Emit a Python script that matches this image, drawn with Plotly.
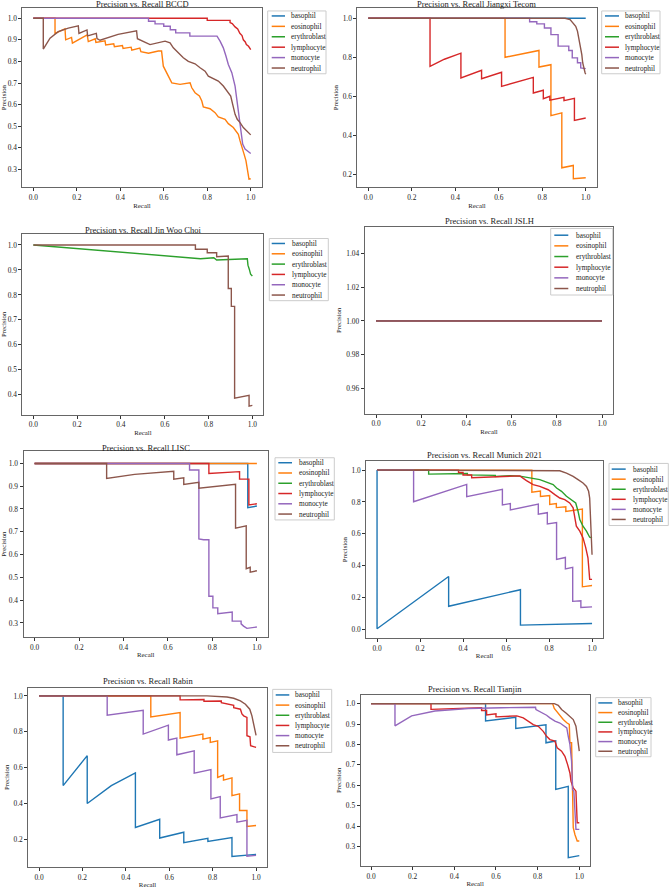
import plotly.graph_objects as go

W, H = 669, 888
FONT = "Liberation Serif"

CLASSES = ["basophil", "eosinophil", "erythroblast", "lymphocyte", "monocyte", "neutrophil"]
COLORS = ["#1f77b4", "#ff7f0e", "#2ca02c", "#d62728", "#9467bd", "#8c564b"]
DATASETS = ["BCCD", "Jiangxi Tecom", "Jin Woo Choi", "JSLH", "LISC", "Munich 2021", "Rabin", "Tianjin"]
X_TICKS = [0.0, 0.2, 0.4, 0.6, 0.8, 1.0]

# ---------------- data: (recall, precision) points ----------------
# BCCD
bccd_basophil = []
bccd_eosinophil = [(0, 1), (0.10, 1), (0.10, 0.93), (0.146, 0.951), (0.149, 0.90), (0.176, 0.911), (0.18, 0.885),
                   (0.248, 0.923), (0.253, 0.892), (0.285, 0.905), (0.288, 0.888), (0.33, 0.895), (0.333, 0.876),
                   (0.37, 0.882), (0.373, 0.868), (0.41, 0.874), (0.413, 0.86), (0.45, 0.866), (0.453, 0.852),
                   (0.49, 0.862), (0.495, 0.845), (0.53, 0.838), (0.575, 0.848), (0.59, 0.848), (0.598, 0.778),
                   (0.614, 0.748), (0.629, 0.717), (0.637, 0.701), (0.675, 0.694), (0.721, 0.701), (0.729, 0.678),
                   (0.744, 0.655), (0.764, 0.64), (0.775, 0.617), (0.782, 0.589), (0.813, 0.581), (0.836, 0.563),
                   (0.851, 0.543), (0.882, 0.532), (0.897, 0.512), (0.92, 0.494), (0.943, 0.463), (0.951, 0.432),
                   (0.959, 0.409), (0.969, 0.372), (0.978, 0.341), (0.984, 0.295), (0.992, 0.255), (1.0, 0.257)]
bccd_erythroblast = []
bccd_lymphocyte = [(0, 1), (0.80, 1), (0.80, 0.99), (0.905, 0.99), (0.905, 0.98), (0.915, 0.975), (0.928, 0.96),
                   (0.94, 0.95), (0.95, 0.93), (0.96, 0.92), (0.966, 0.90), (0.975, 0.89), (0.98, 0.878),
                   (0.99, 0.87), (1.0, 0.855)]
bccd_monocyte = [(0, 1), (0.53, 1), (0.53, 0.986), (0.56, 0.986), (0.56, 0.974), (0.60, 0.974), (0.60, 0.963),
                 (0.63, 0.963), (0.63, 0.947), (0.655, 0.947), (0.655, 0.932), (0.72, 0.932), (0.72, 0.917),
                 (0.845, 0.917), (0.859, 0.894), (0.874, 0.863), (0.886, 0.825), (0.897, 0.786), (0.913, 0.748),
                 (0.928, 0.686), (0.936, 0.624), (0.946, 0.555), (0.954, 0.478), (0.963, 0.417), (0.974, 0.394),
                 (0.997, 0.374), (1.0, 0.374)]
bccd_neutrophil = [(0, 1), (0.046, 1), (0.046, 0.857), (0.077, 0.908), (0.115, 0.938), (0.161, 0.954),
                   (0.207, 0.965), (0.21, 0.93), (0.247, 0.946), (0.25, 0.918), (0.29, 0.93), (0.293, 0.906),
                   (0.307, 0.898), (0.39, 0.925), (0.475, 0.942), (0.479, 0.905), (0.52, 0.886), (0.537, 0.878),
                   (0.606, 0.894), (0.629, 0.886), (0.644, 0.863), (0.667, 0.84), (0.69, 0.817), (0.713, 0.80),
                   (0.744, 0.789), (0.767, 0.771), (0.79, 0.755), (0.805, 0.732), (0.828, 0.721), (0.851, 0.709),
                   (0.874, 0.686), (0.892, 0.663), (0.908, 0.64), (0.917, 0.601), (0.928, 0.555), (0.938, 0.532),
                   (0.951, 0.517), (0.966, 0.494), (0.981, 0.478), (0.997, 0.46), (1.0, 0.46)]

# Jiangxi Tecom
jx_basophil = [(0, 1), (1.0, 1)]
jx_eosinophil = [(0, 1), (0.629, 1), (0.629, 0.80), (0.785, 0.835), (0.785, 0.75), (0.84, 0.762), (0.84, 0.501),
                 (0.89, 0.515), (0.89, 0.234), (0.943, 0.246), (0.943, 0.178), (1.0, 0.183)]
jx_erythroblast = []
jx_lymphocyte = [(0, 1), (0.284, 1), (0.284, 0.753), (0.35, 0.79), (0.426, 0.821), (0.426, 0.694), (0.521, 0.733),
                 (0.521, 0.69), (0.613, 0.723), (0.613, 0.651), (0.759, 0.697), (0.759, 0.617), (0.805, 0.631),
                 (0.805, 0.588), (0.835, 0.60), (0.835, 0.58), (0.90, 0.595), (0.90, 0.578), (0.948, 0.59),
                 (0.948, 0.477), (1.0, 0.489)]
jx_monocyte = [(0, 1), (0.742, 1), (0.742, 0.982), (0.775, 0.982), (0.775, 0.971), (0.81, 0.971), (0.81, 0.95),
               (0.84, 0.95), (0.84, 0.916), (0.873, 0.916), (0.873, 0.857), (0.922, 0.857), (0.922, 0.835),
               (0.938, 0.835), (0.938, 0.797), (0.962, 0.797), (0.962, 0.772), (0.977, 0.772), (0.977, 0.746),
               (1.0, 0.742)]
jx_neutrophil = [(0, 1), (0.905, 1), (0.928, 0.993), (0.943, 0.976), (0.954, 0.959), (0.962, 0.934), (0.97, 0.891),
                 (0.975, 0.848), (0.982, 0.814), (0.986, 0.772), (0.992, 0.738), (0.997, 0.721), (1.0, 0.713)]

# Jin Woo Choi
jw_basophil = []
jw_eosinophil = []
jw_erythroblast = [(0, 1), (0.763, 0.945), (0.824, 0.949), (0.837, 0.94), (0.977, 0.945), (0.98, 0.919),
                   (0.986, 0.903), (0.992, 0.883), (1.0, 0.876)]
jw_lymphocyte = []
jw_monocyte = []
jw_neutrophil = [(0, 1), (0.74, 1), (0.74, 0.983), (0.794, 0.983), (0.794, 0.969), (0.837, 0.969), (0.837, 0.953),
                 (0.89, 0.956), (0.89, 0.826), (0.904, 0.826), (0.904, 0.754), (0.919, 0.754), (0.919, 0.387),
                 (0.985, 0.398), (0.985, 0.355), (1.0, 0.358)]

# JSLH
jslh_basophil = [(0, 1), (1.0, 1)]
jslh_eosinophil = [(0, 1), (1.0, 1)]
jslh_erythroblast = [(0, 1), (1.0, 1)]
jslh_lymphocyte = [(0, 1), (1.0, 1)]
jslh_monocyte = [(0, 1), (1.0, 1)]
jslh_neutrophil = [(0, 1), (1.0, 1)]

# LISC
lisc_basophil = [(0, 1), (0.959, 1), (0.959, 0.806), (1.0, 0.813)]
lisc_eosinophil = [(0, 1), (1.0, 1)]
lisc_erythroblast = []
lisc_lymphocyte = [(0, 1), (0.784, 1), (0.784, 0.956), (0.922, 0.964), (0.922, 0.931), (0.964, 0.931),
                   (0.964, 0.818), (1.0, 0.823)]
lisc_monocyte = [(0, 1), (0.697, 1), (0.697, 0.971), (0.739, 0.971), (0.739, 0.669), (0.76, 0.665), (0.784, 0.665),
                 (0.784, 0.417), (0.802, 0.417), (0.802, 0.366), (0.824, 0.366), (0.824, 0.34), (0.889, 0.348),
                 (0.889, 0.308), (0.929, 0.308), (0.929, 0.296), (0.94, 0.286), (0.955, 0.276), (1.0, 0.282)]
lisc_neutrophil = [(0, 1), (0.324, 1), (0.324, 0.934), (0.45, 0.952), (0.626, 0.966), (0.626, 0.931),
                   (0.671, 0.937), (0.671, 0.908), (0.739, 0.917), (0.739, 0.891), (0.904, 0.908), (0.904, 0.716),
                   (0.952, 0.726), (0.952, 0.538), (0.97, 0.544), (0.97, 0.523), (1.0, 0.529)]

# Munich 2021
mu_basophil = [(0, 1), (0, 0.005), (0.333, 0.333), (0.333, 0.146), (0.667, 0.25), (0.667, 0.028), (1.0, 0.038)]
mu_eosinophil = [(0, 1), (0.72, 1), (0.72, 0.862), (0.76, 0.868), (0.76, 0.835), (0.803, 0.84), (0.803, 0.785),
                 (0.834, 0.79), (0.834, 0.765), (0.878, 0.77), (0.878, 0.74), (0.955, 0.755), (0.955, 0.268),
                 (1.0, 0.276)]
mu_erythroblast = [(0, 1), (0.24, 1), (0.24, 0.975), (0.42, 0.979), (0.42, 0.97), (0.55, 0.967), (0.55, 0.96),
                   (0.62, 0.965), (0.664, 0.962), (0.70, 0.955), (0.757, 0.94), (0.788, 0.925), (0.819, 0.909),
                   (0.835, 0.888), (0.858, 0.867), (0.881, 0.836), (0.904, 0.815), (0.924, 0.794), (0.935, 0.742),
                   (0.943, 0.69), (0.958, 0.648), (0.974, 0.617), (0.989, 0.579), (1.0, 0.575)]
mu_lymphocyte = [(0, 1), (0.379, 1), (0.379, 0.985), (0.40, 0.985), (0.40, 0.969), (0.44, 0.969), (0.44, 0.952),
                 (0.55, 0.958), (0.664, 0.964), (0.695, 0.934), (0.726, 0.909), (0.757, 0.898), (0.796, 0.877),
                 (0.827, 0.846), (0.85, 0.825), (0.873, 0.815), (0.896, 0.794), (0.912, 0.763), (0.919, 0.70),
                 (0.927, 0.648), (0.943, 0.617), (0.958, 0.575), (0.97, 0.517), (0.981, 0.45), (0.986, 0.367),
                 (0.989, 0.315), (1.0, 0.315)]
mu_monocyte = [(0, 1), (0.17, 1), (0.17, 0.802), (0.417, 0.91), (0.417, 0.833), (0.583, 0.879), (0.583, 0.781),
               (0.62, 0.79), (0.62, 0.75), (0.75, 0.787), (0.75, 0.723), (0.792, 0.733), (0.792, 0.662),
               (0.835, 0.671), (0.835, 0.44), (0.876, 0.452), (0.876, 0.38), (0.91, 0.39), (0.91, 0.177),
               (0.948, 0.181), (0.948, 0.138), (1.0, 0.142)]
mu_neutrophil = [(0, 1), (0.80, 1), (0.85, 0.996), (0.881, 0.981), (0.912, 0.961), (0.935, 0.94), (0.958, 0.919),
                 (0.974, 0.898), (0.984, 0.867), (0.989, 0.825), (0.993, 0.679), (0.997, 0.471), (1.0, 0.469)]

# Rabin
ra_basophil = [(0, 1), (0.111, 1), (0.111, 0.5), (0.222, 0.667), (0.222, 0.4), (0.333, 0.5), (0.444, 0.571),
               (0.444, 0.267), (0.556, 0.312), (0.556, 0.208), (0.667, 0.24), (0.667, 0.182), (0.778, 0.206),
               (0.778, 0.189), (0.889, 0.211), (0.889, 0.105), (1.0, 0.117)]
ra_eosinophil = [(0, 1), (0.515, 1), (0.515, 0.883), (0.65, 0.907), (0.65, 0.765), (0.755, 0.787), (0.755, 0.759),
                 (0.789, 0.768), (0.789, 0.741), (0.823, 0.75), (0.823, 0.546), (0.85, 0.559), (0.85, 0.531),
                 (0.889, 0.543), (0.889, 0.444), (0.924, 0.454), (0.924, 0.361), (0.958, 0.361), (0.958, 0.272),
                 (1.0, 0.278)]
ra_erythroblast = []
ra_lymphocyte = [(0, 1), (0.65, 1), (0.65, 0.978), (0.76, 0.98), (0.76, 0.97), (0.84, 0.972), (0.84, 0.962),
                 (0.87, 0.955), (0.897, 0.948), (0.897, 0.935), (0.928, 0.926), (0.935, 0.90), (0.943, 0.889),
                 (0.958, 0.88), (0.958, 0.778), (0.972, 0.772), (0.975, 0.722), (1.0, 0.713)]
ra_monocyte = [(0, 1), (0.314, 1), (0.314, 0.893), (0.48, 0.92), (0.48, 0.787), (0.596, 0.837), (0.596, 0.754),
               (0.635, 0.765), (0.635, 0.672), (0.715, 0.694), (0.715, 0.569), (0.792, 0.589), (0.792, 0.426),
               (0.835, 0.439), (0.835, 0.32), (0.912, 0.339), (0.912, 0.296), (0.958, 0.306), (0.958, 0.106),
               (1.0, 0.111)]
ra_neutrophil = [(0, 1), (0.774, 1), (0.866, 0.994), (0.897, 0.987), (0.928, 0.972), (0.951, 0.954),
                 (0.971, 0.926), (0.981, 0.889), (0.989, 0.843), (0.997, 0.787), (1.0, 0.78)]

# Tianjin
tj_basophil = [(0, 1), (0.55, 1), (0.55, 0.915), (0.695, 0.933), (0.695, 0.878), (0.84, 0.896), (0.84, 0.808),
               (0.887, 0.817), (0.887, 0.58), (0.947, 0.595), (0.947, 0.245), (1.0, 0.255)]
tj_eosinophil = [(0, 1), (0.872, 1), (0.88, 0.976), (0.891, 0.962), (0.907, 0.946), (0.923, 0.922), (0.94, 0.906),
                 (0.952, 0.898), (0.955, 0.808), (0.963, 0.808), (0.968, 0.555), (0.971, 0.392), (0.979, 0.359),
                 (0.99, 0.327), (1.0, 0.327)]
tj_erythroblast = []
tj_lymphocyte = [(0, 1), (0.288, 1), (0.288, 0.972), (0.531, 0.98), (0.531, 0.966), (0.555, 0.966), (0.555, 0.945),
                 (0.60, 0.95), (0.60, 0.935), (0.70, 0.94), (0.731, 0.93), (0.755, 0.913), (0.779, 0.897),
                 (0.803, 0.889), (0.827, 0.864), (0.843, 0.84), (0.859, 0.824), (0.883, 0.816), (0.894, 0.783),
                 (0.915, 0.767), (0.931, 0.742), (0.944, 0.701), (0.955, 0.66), (0.96, 0.62), (0.971, 0.587),
                 (0.984, 0.571), (0.99, 0.416), (1.0, 0.416)]
tj_monocyte = [(0, 1), (0.115, 1), (0.115, 0.891), (0.195, 0.94), (0.307, 0.964), (0.467, 0.976), (0.627, 0.98),
               (0.79, 0.982), (0.792, 0.971), (0.811, 0.962), (0.843, 0.943), (0.859, 0.93), (0.883, 0.914),
               (0.907, 0.905), (0.927, 0.889), (0.94, 0.881), (0.947, 0.84), (0.955, 0.80), (0.963, 0.718),
               (0.968, 0.579), (0.974, 0.57), (0.984, 0.384), (1.0, 0.384)]
tj_neutrophil = [(0, 1), (0.88, 1), (0.899, 0.992), (0.915, 0.971), (0.936, 0.954), (0.955, 0.938), (0.971, 0.922),
                 (0.984, 0.889), (0.992, 0.832), (0.998, 0.767), (1.0, 0.767)]

# y tick labels per panel
bccd_yticks = [0.3, 0.4, 0.5, 0.6, 0.7, 0.8, 0.9, 1.0]
jx_yticks = [0.2, 0.4, 0.6, 0.8, 1.0]
jw_yticks = [0.4, 0.5, 0.6, 0.7, 0.8, 0.9, 1.0]
jslh_yticks = [0.96, 0.98, 1.00, 1.02, 1.04]
lisc_yticks = [0.3, 0.4, 0.5, 0.6, 0.7, 0.8, 0.9, 1.0]
mu_yticks = [0.0, 0.2, 0.4, 0.6, 0.8, 1.0]
ra_yticks = [0.2, 0.4, 0.6, 0.8, 1.0]
tj_yticks = [0.3, 0.4, 0.5, 0.6, 0.7, 0.8, 0.9, 1.0]

PANEL_CURVES = [
    [bccd_basophil, bccd_eosinophil, bccd_erythroblast, bccd_lymphocyte, bccd_monocyte, bccd_neutrophil],
    [jx_basophil, jx_eosinophil, jx_erythroblast, jx_lymphocyte, jx_monocyte, jx_neutrophil],
    [jw_basophil, jw_eosinophil, jw_erythroblast, jw_lymphocyte, jw_monocyte, jw_neutrophil],
    [jslh_basophil, jslh_eosinophil, jslh_erythroblast, jslh_lymphocyte, jslh_monocyte, jslh_neutrophil],
    [lisc_basophil, lisc_eosinophil, lisc_erythroblast, lisc_lymphocyte, lisc_monocyte, lisc_neutrophil],
    [mu_basophil, mu_eosinophil, mu_erythroblast, mu_lymphocyte, mu_monocyte, mu_neutrophil],
    [ra_basophil, ra_eosinophil, ra_erythroblast, ra_lymphocyte, ra_monocyte, ra_neutrophil],
    [tj_basophil, tj_eosinophil, tj_erythroblast, tj_lymphocyte, tj_monocyte, tj_neutrophil],
]
PANEL_YTICKS = [bccd_yticks, jx_yticks, jw_yticks, jslh_yticks, lisc_yticks, mu_yticks, ra_yticks, tj_yticks]

# ---------------- layout (pixels) ----------------
FRAMES = [(22.4, 261.6, 8, 188), (357.4, 596.6, 8, 188), (22.4, 263.3, 235, 416), (364.7, 613.3, 228, 415),
          (23.5, 268, 453, 639), (366.3, 602.8, 463, 640), (28.2, 266.9, 690, 870), (360.6, 589.7, 697, 869)]
Y_RANGES = [(0.217, 1.0475), (0.1337, 1.0526), (0.321, 1.043), (0.9453, 1.0553),
            (0.2389, 1.0525), (-0.0519, 1.0544), (0.046, 1.046), (0.204, 1.044)]
TITLE_GAP = [4, 4, 4.3, 6.3, 3.5, 6.3, 6.7, 5.3]
# legend box: left, top, right, bottom, line x0, line x1, text x, first row y, row step
LEGENDS = [(267.7, 11, 326, 74, 271.7, 285, 289.3, 16, 10.45),
           (601.7, 11, 660, 74, 605, 619, 623.3, 16, 10.45),
           (269.3, 239.3, 328.3, 301.7, 271.7, 285, 290, 244.3, 10.35),
           (550.7, 229.3, 612.7, 296, 554.3, 568.3, 574.3, 236, 10.7),
           (275, 459.3, 334.3, 521.7, 278.3, 292, 296.7, 464.3, 10.3),
           (609, 465, 668.3, 527.3, 611.7, 625.7, 630.7, 470.7, 10.1),
           (272.7, 691.7, 331.7, 755, 275.7, 289.3, 293.3, 697.3, 10.2),
           (595.7, 700, 651, 759.3, 598.3, 612.3, 616, 705.3, 9.7)]


def px(x):
    return x / W


def py(y):
    return 1 - y / H


fig = go.Figure()
layout = dict(width=W, height=H, margin=dict(l=0, r=0, t=0, b=0), showlegend=False,
              paper_bgcolor="white", plot_bgcolor="white",
              font=dict(family=FONT, size=7.2, color="#222"))
annotations = []
shapes = []
axis_common = dict(showline=True, mirror=True, linecolor="#666", linewidth=1, ticks="outside", ticklen=3,
                   tickwidth=0.8, tickcolor="#333", showgrid=False, zeroline=False,
                   tickfont=dict(family=FONT, size=7.4, color="#222"))

for i, name in enumerate(DATASETS):
    k = "" if i == 0 else str(i + 1)
    xa, ya = "x" + k, "y" + k
    for cls, col, pts in zip(CLASSES, COLORS, PANEL_CURVES[i]):
        fig.add_trace(go.Scatter(x=[p[0] for p in pts], y=[p[1] for p in pts], mode="lines", name=cls,
                                 line=dict(color=col, width=1.4), xaxis=xa, yaxis=ya, hoverinfo="x+y+name"))
    x0, x1, yt, yb = FRAMES[i]
    layout["xaxis" + k] = dict(axis_common, domain=[px(x0), px(x1)], range=[-0.05, 1.05], anchor=ya,
                               tickvals=X_TICKS, tickformat=".1f",
                               title=dict(text="Recall", font=dict(family=FONT, size=6.8, color="#222"), standoff=1))
    layout["yaxis" + k] = dict(axis_common, domain=[py(yb), py(yt)], range=list(Y_RANGES[i]), anchor=xa,
                               tickvals=PANEL_YTICKS[i], tickformat=".2f" if name == "JSLH" else ".1f",
                               title=dict(text="Precision", font=dict(family=FONT, size=6.8, color="#222"), standoff=3))
    annotations.append(dict(text="Precision vs. Recall " + name, x=px((x0 + x1) / 2), y=py(yt - TITLE_GAP[i]),
                            xref="paper", yref="paper", xanchor="center", yanchor="middle", showarrow=False,
                            font=dict(family=FONT, size=8.5, color="#222")))
    # legend
    L, T, R, B, lx0, lx1, tx, fy, step = LEGENDS[i]
    shapes.append(dict(type="rect", xref="paper", yref="paper", x0=px(L), x1=px(R), y0=py(B), y1=py(T),
                       line=dict(color="#cccccc", width=1), fillcolor="rgba(255,255,255,0.85)", layer="above"))
    for j, (cls, col) in enumerate(zip(CLASSES, COLORS)):
        yy = fy + j * step
        shapes.append(dict(type="line", xref="paper", yref="paper", x0=px(lx0), x1=px(lx1), y0=py(yy), y1=py(yy),
                           line=dict(color=col, width=1.5), layer="above"))
        annotations.append(dict(text=cls, x=px(tx), y=py(yy), xref="paper", yref="paper", xanchor="left",
                                yanchor="middle", showarrow=False,
                                font=dict(family=FONT, size=7.3, color="#222")))

layout["annotations"] = annotations
layout["shapes"] = shapes
fig.update_layout(**layout)
fig.write_html("out.html", config={"displayModeBar": False},
               post_script="document.body.style.margin='0';document.body.style.padding='0';"
                           "document.body.style.overflow='hidden';")
